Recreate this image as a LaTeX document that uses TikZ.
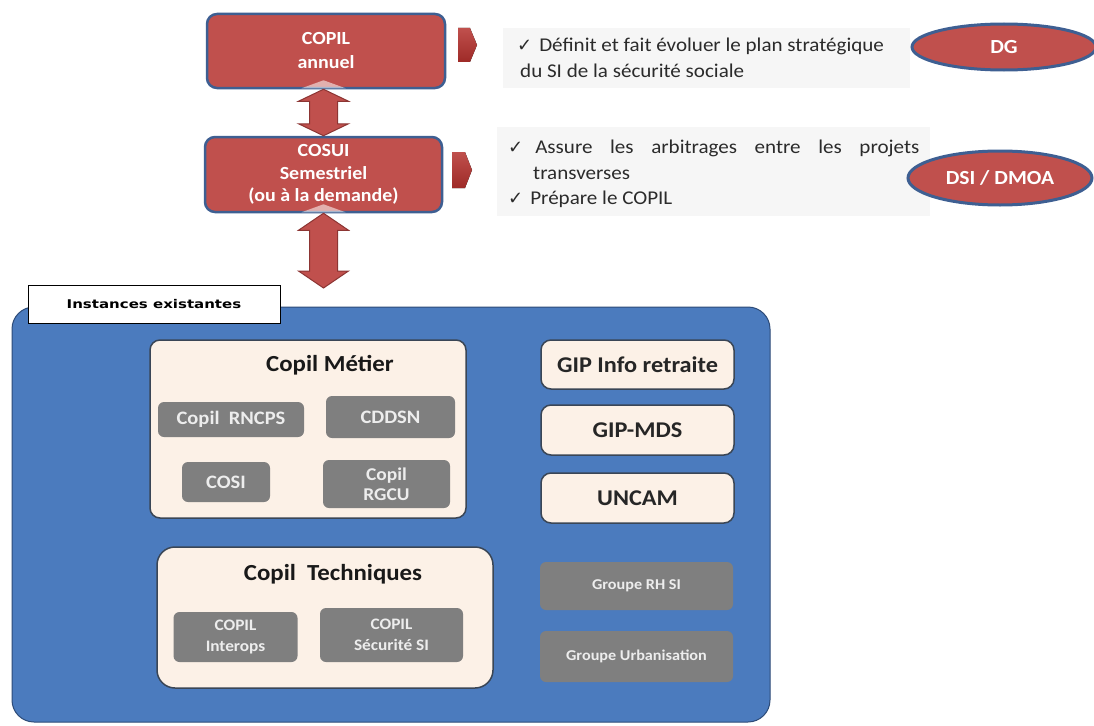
\documentclass[tikz,border=0pt]{standalone}
\usepackage{fontspec}
\setmainfont[FakeStretch=1.08]{Carlito}
\newfontfamily\symfont{DejaVu Sans}
\newfontfamily\labfont[FakeStretch=1.25]{DejaVu Sans}
\usetikzlibrary{shapes.geometric,calc}
\definecolor{myred}{HTML}{C0504D}
\definecolor{darkred}{HTML}{8C3533}
\definecolor{chevdark}{HTML}{9E2A27}
\definecolor{myblue}{HTML}{3E5F92}
\definecolor{panelblue}{HTML}{4B7BBE}
\definecolor{paneledge}{HTML}{2D4B78}
\definecolor{cream}{HTML}{FCF1E7}
\definecolor{creamedge}{HTML}{3A4656}
\definecolor{boxgray}{HTML}{7F7F7F}
\definecolor{graytext}{HTML}{EDEDED}
\definecolor{bodytext}{HTML}{2B2B2B}
\definecolor{textbg}{HTML}{F6F6F6}
\newcommand\ck{{\symfont\fontsize{18}{18}\selectfont ✓}}
\newcommand\dblarrow[3]{%
  \draw[barrow] let \p1=#1, \p2=#2 in
    (\x2,\y1) -- (\x2+25pt,\y1-#3) -- (\x2+14pt,\y1-#3) -- (\x2+14pt,\y2+#3)
    -- (\x2+25pt,\y2+#3) -- (\x2,\y2) -- (\x2-25pt,\y2+#3) -- (\x2-14pt,\y2+#3)
    -- (\x2-14pt,\y1-#3) -- (\x2-25pt,\y1-#3) -- cycle;
  \fill[white, opacity=0.55] let \p1=#1, \p2=#2 in
    (\x2-22pt,\y1+1pt) -- (\x2,\y1+9pt) -- (\x2+22pt,\y1+1pt) -- cycle;}
\tikzset{
  redbox/.style={rounded corners=10pt, fill=myred, draw=myblue, line width=2.5pt,
    text=white, font=\bfseries\fontsize{18.5}{24}\selectfont, align=center, inner sep=0pt},
  redell/.style={ellipse, fill=myred, draw=myblue, line width=3pt, text=white,
    font=\bfseries\fontsize{20}{22}\selectfont, inner sep=0pt},
  barrow/.style={fill=myred, draw=darkred, line width=1pt, line join=miter},
  chev/.style={top color=myred, bottom color=chevdark},
  panel/.style={rounded corners=22pt, fill=panelblue, draw=paneledge, line width=1pt, inner sep=0pt},
  creambox/.style={rounded corners=10pt, fill=cream, draw=creamedge, line width=1.5pt, inner sep=0pt},
  graybox/.style={rounded corners=6pt, fill=boxgray, text=graytext, align=center,
    font=\bfseries\fontsize{19}{24}\selectfont, inner sep=0pt},
  smallgray/.style={graybox, font=\bfseries\fontsize{16}{21}\selectfont},
  groupgray/.style={graybox, font=\bfseries\fontsize{15}{18}\selectfont},
  title/.style={text=black!90, font=\bfseries\fontsize{23}{26}\selectfont, inner sep=0pt},
  giptext/.style={text=black!85, font=\bfseries\fontsize{22.5}{26}\selectfont},
  bodyt/.style={text=bodytext, font=\fontsize{19.5}{22}\selectfont, anchor=west, inner sep=0pt},
}
\begin{document}
\begin{tikzpicture}[x=1pt,y=1pt]
\useasboundingbox (0,0) rectangle (1094,-725);
\fill[white] (0,0) rectangle (1094,-725);

% top boxes
\node[redbox, minimum width=238, minimum height=74] (copil) at (326,-51) {COPIL\\annuel};
\node[redbox, minimum width=237, minimum height=75, font=\bfseries\fontsize{18.5}{22.5}\selectfont] (cosui) at (323.5,-174.5) {COSUI\\Semestriel\\(ou à la demande)};
\coordinate (arrend) at (323.5,-288);
\dblarrow{(copil.south)}{(cosui.north)}{12pt}
\dblarrow{(cosui.south)}{(arrend)}{17pt}

% chevrons
\fill[chev] (458,-28) -- (470,-28) -- (477,-45) -- (470,-62) -- (458,-62) -- cycle;
\fill[chev] (452,-152) -- (465,-152) -- (472,-170) -- (465,-188) -- (452,-188) -- cycle;

% text backgrounds
\fill[textbg] (503,-28) rectangle (910,-88);
\fill[textbg] (497,-127) rectangle (930,-216);
\node[bodyt] (t1) at (517,-46) {\ck\kern7pt Définit et fait évoluer le plan stratégique};
\node[bodyt] (t2) at (520,-71) {du SI de la sécurité sociale};
\node[bodyt] (t3) at (508,-148) {\ck\kern12pt\makebox[384pt][s]{Assure les arbitrages entre les projets}};
\node[bodyt] (t4) at (533,-173) {transverses};
\node[bodyt] (t5) at (508,-199) {\ck\kern7pt Prépare le COPIL};

% ellipses
\node[redell, minimum width=184, minimum height=46] (dg) at (1004,-47) {DG};
\node[redell, minimum width=184, minimum height=54] (dsi) at (1000,-178) {DSI / DMOA};

% panel
\node[panel, minimum width=758, minimum height=415] (panel) at (391,-514.5) {};
\node[draw=black, fill=white, line width=1pt, minimum width=252, minimum height=38, inner sep=0pt,
  font=\labfont\bfseries\fontsize{12}{14}\selectfont] (inst) at (154,-304) {Instances existantes};

% Copil Metier
\node[creambox, minimum width=316, minimum height=178] (metier) at (308,-429) {};
\node[title] (metiert) at (330,-365) {Copil Métier};
\node[graybox, minimum width=146, minimum height=35] (rncps) at (231,-419.5) {Copil\ \ RNCPS};
\node[graybox, minimum width=129, minimum height=42] (cddsn) at (390.5,-417) {CDDSN};
\node[graybox, minimum width=88, minimum height=40] (cosi) at (226,-482) {COSI};
\node[graybox, minimum width=127, minimum height=48, font=\bfseries\fontsize{18}{20}\selectfont] (rgcu) at (386.5,-484) {Copil\\RGCU};

% Copil Techniques
\node[creambox, minimum width=336, minimum height=141, rounded corners=18pt] (tech) at (325,-617.5) {};
\node[title] (techt) at (333,-574) {Copil\ \ Techniques};
\node[smallgray, minimum width=124, minimum height=50] (interops) at (235.5,-637) {COPIL\\Interops};
\node[smallgray, minimum width=143, minimum height=54] (secu) at (391.5,-635) {COPIL\\Sécurité SI};

% right column
\node[creambox, minimum width=193, minimum height=49, giptext] (gip1) at (637.5,-364.5) {GIP Info retraite};
\node[creambox, minimum width=193, minimum height=50, giptext] (gip2) at (637.5,-430) {GIP-MDS};
\node[creambox, minimum width=193, minimum height=50, giptext] (uncam) at (637.5,-498) {UNCAM};
\node[groupgray, minimum width=193, minimum height=48] (rh) at (636.5,-586) {Groupe RH SI};
\node[groupgray, minimum width=193, minimum height=51] (urba) at (636.5,-656.5) {Groupe Urbanisation};
\end{tikzpicture}
\end{document}
